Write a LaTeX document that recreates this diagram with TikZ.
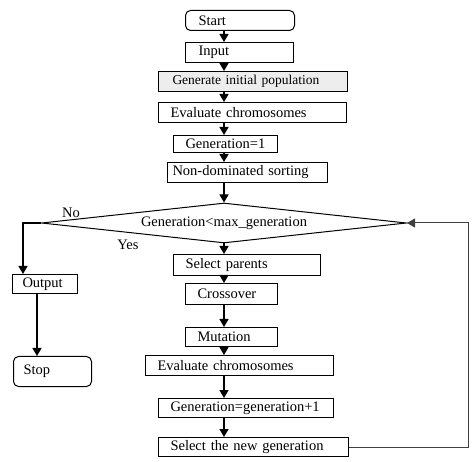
\documentclass[tikz,border=0pt]{standalone}
\usepackage{fontspec}
\setmainfont{Liberation Serif}
\usetikzlibrary{shapes.geometric,arrows.meta,calc}
\tikzset{
  bx/.style={draw, line width=1pt, anchor=north west, inner ysep=0pt, align=left},
  arr/.style={line width=1.3pt, -{Triangle[width=9pt,length=8pt]}},
  lbl/.style={inner sep=0pt}
}
\begin{document}
\begin{tikzpicture}[x=1pt,y=-1pt,font=\fontsize{14.5}{17}\selectfont]
\useasboundingbox (0,0) rectangle (474,462);
% boxes
\node[bx, rounded corners=5pt, minimum width=109, minimum height=20, inner xsep=13, text width=83] (start) at (185,10) {Start};
\node[bx, minimum width=108, minimum height=20, inner xsep=13, text width=82] (input) at (185,42) {Input};
\node[bx, fill=black!7, minimum width=189, minimum height=20, inner xsep=14, text width=161, font=\fontsize{13.5}{16}\selectfont] (gen) at (158,71) {Generate initial population};
\node[bx, minimum width=188, minimum height=20, inner xsep=12, text width=164] (eval1) at (158,102) {Evaluate chromosomes};
\node[bx, minimum width=104, minimum height=17, inner xsep=12, text width=80] (g1) at (173,135) {Generation=1};
\node[bx, minimum width=160, minimum height=20, inner xsep=5, text width=150] (nds) at (167,162) {Non-dominated sorting};
\node[draw, line width=1pt, diamond, aspect=9.125, minimum width=365, minimum height=40, inner sep=0pt] (d) at (224,223) {Generation<max\_generation};
\node[bx, minimum width=147, minimum height=21, inner xsep=12, text width=123] (sp) at (173,254) {Select parents};
\node[bx, minimum width=92, minimum height=21, inner xsep=12, text width=68] (cross) at (185,283) {Crossover};
\node[bx, minimum width=92, minimum height=19, inner xsep=12, text width=68] (mut) at (185,327) {Mutation};
\node[bx, minimum width=188, minimum height=20, inner xsep=12, text width=164] (eval2) at (145,355) {Evaluate chromosomes};
\node[bx, minimum width=175, minimum height=19, inner xsep=12, text width=151] (ggp) at (158,398) {Generation=generation+1};
\node[bx, minimum width=190, minimum height=19, inner xsep=12, text width=166] (sng) at (158,437) {Select the new generation};
\node[bx, minimum width=65, minimum height=19, inner xsep=10, text width=45] (out) at (12,274) {Output};
\node[bx, rounded corners=5pt, minimum width=78, minimum height=30, inner xsep=10, text width=58] (stop) at (13,356) {Stop};
% labels
\node[lbl] (no) at (71,213) {No};
\node[lbl] (yes) at (128,245) {Yes};
% main flow arrows
\draw[arr] (start.south -| d.north) -- (input.north -| d.north);
\draw[arr] (input.south -| d.north) -- (gen.north -| d.north);
\draw[arr] (gen.south -| d.north) -- (eval1.north -| d.north);
\draw[arr] (eval1.south -| d.north) -- (g1.north -| d.north);
\draw[arr] (g1.south -| d.north) -- (nds.north -| d.north);
\draw[arr] (nds.south -| d.north) -- (d.north);
\draw[arr] (d.south) -- (sp.north -| d.north);
\draw[arr] (sp.south -| d.north) -- (cross.north -| d.north);
\draw[arr] (cross.south -| d.north) -- (mut.north -| d.north);
\draw[arr] (mut.south -| d.north) -- (eval2.north -| d.north);
\draw[arr] (eval2.south -| d.north) -- (ggp.north -| d.north);
\draw[arr] (ggp.south -| d.north) -- (sng.north -| d.north);
% No branch
\draw[arr] (d.west) -| ([xshift=11pt]out.north west);
\draw[arr] ([xshift=25pt]out.south west) -- ([xshift=24pt]stop.north west);
% feedback loop
\coordinate (fbx) at (468,0);
\draw[arr, line width=1pt, draw=black!75] (sng.east) -- (sng.east -| fbx) -- (d.east -| fbx) -- (d.east);
\end{tikzpicture}
\end{document}
